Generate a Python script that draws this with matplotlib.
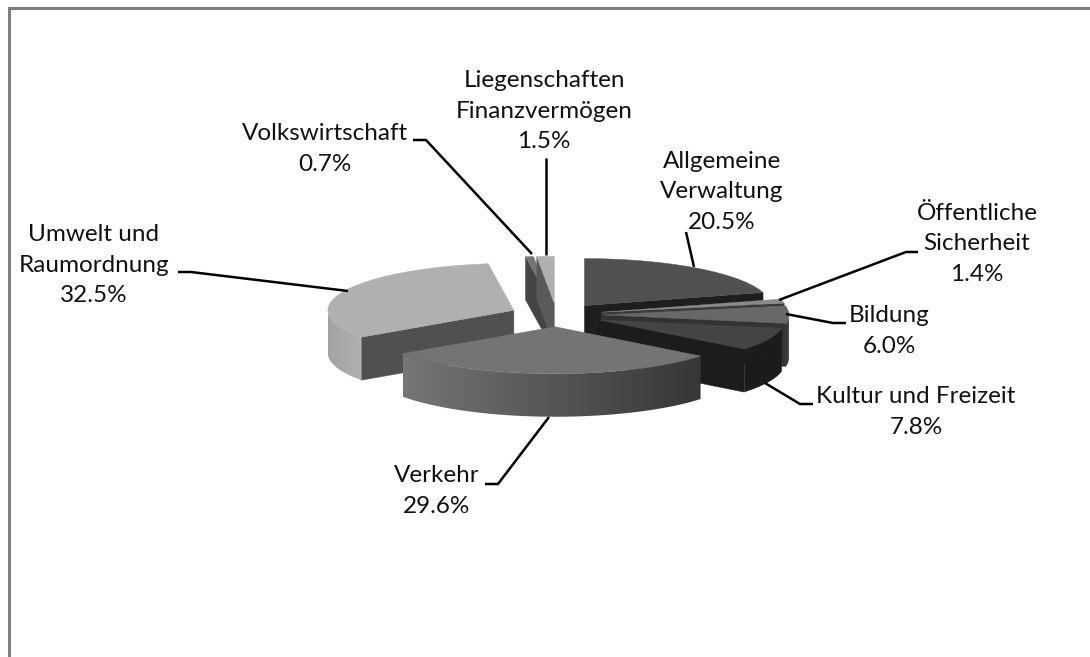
import numpy as np
import matplotlib
matplotlib.use("Agg")
import matplotlib.pyplot as plt
from matplotlib.colors import LinearSegmentedColormap
from matplotlib.patches import Polygon

# ====== data ======
labels = ["Allgemeine\nVerwaltung", "Öffentliche\nSicherheit", "Bildung", "Kultur und Freizeit",
          "Verkehr", "Umwelt und\nRaumordnung", "Volkswirtschaft", "Liegenschaften\nFinanzvermögen"]
shares = [20.5, 1.4, 6.0, 7.8, 29.6, 32.5, 0.7, 1.5]

# ====== style ======
top_colors = ["#505050", "#8a8a8a", "#686868", "#444444", "#747474", "#b0b0b0", "#767676", "#b0b0b0"]
cut_colors = ["#1e1e1e", "#3a3a3a", "#333333", "#1c1c1c", "#404040", "#505050", "#444444", "#5a5a5a"]
wall_colors = [["#505050", "#505050"], ["#666666", "#666666"], ["#303030", "#5a5a5a"], ["#1c1c1c", "#1c1c1c"],
               ["#767676", "#363636"], ["#a2a2a2", "#aaaaaa", "#b0b0b0"], ["#505050", "#505050"], ["#808080", "#808080"]]
label_xy = [(722, 192), (977, 244), (889, 331), (916, 412), (437, 491), (94, 265), (325, 149), (544, 111)]
leaders = [[(686, 232), (694, 267)],
           [(918, 252), (906, 252), (779, 300)],
           [(846, 323), (833, 323), (786, 314)],
           [(813, 404), (800, 404), (765, 383)],
           [(485, 484), (498, 484), (549, 417)],
           [(178, 272), (191, 272), (348, 291)],
           [(413, 140), (426, 140), (532, 254)],
           [(546, 158), (546, 255)]]

cx, cy = 556.5, 315
rx, ry = 186, 47
explode = 0.25
depth = 43


def rim(x0, y0, a):
    return x0 + rx * np.sin(a), y0 - ry * np.cos(a)


fig = plt.figure(figsize=(10.9, 6.57), dpi=100)
ax = fig.add_axes([0, 0, 1, 1])
ax.axis("off")

# frame, only left and top show up
ax.plot([9, 9, 1090], [657, 8, 8], color="#808080", lw=2.2, solid_joinstyle="miter")

# slices clockwise from 12 o'clock, back ones first
edges = np.radians(np.cumsum([0] + shares) * 3.6)
order = [0, 1, 2, 3, 6, 7, 5, 4]
for z, i in enumerate(order):
    a0, a1 = edges[i], edges[i + 1]
    mid = (a0 + a1) / 2
    x0 = cx + explode * rx * np.sin(mid)
    y0 = cy - explode * ry * np.cos(mid)
    arc = np.linspace(a0, a1, 120)
    px, py = rim(x0, y0, arc)

    # cut faces that look to the front
    for a, show in ((a0, np.sin(a0) < -1e-6), (a1, np.sin(a1) > 1e-6)):
        if show:
            tx, ty = rim(x0, y0, a)
            ax.add_patch(Polygon([(x0, y0), (tx, ty), (tx, ty + depth), (x0, y0 + depth)],
                                 fc=cut_colors[i], ec=cut_colors[i], lw=0.3, zorder=2 + z * 3))

    # outer wall, gradient image clipped to the wall shape
    front = np.cos(arc) < 0.02
    if front.sum() > 1:
        fx, fy = px[front], py[front]
        cmap = LinearSegmentedColormap.from_list("wall", wall_colors[i])
        outline = np.r_[np.c_[fx, fy], np.c_[fx, fy + depth][::-1]]
        im = ax.imshow(np.linspace(0, 1, 256)[None, :], cmap=cmap, aspect="auto", interpolation="bilinear",
                       extent=(fx.min(), fx.max(), fy.max() + depth, fy.min()), zorder=3 + z * 3)
        im.set_clip_path(Polygon(outline, transform=ax.transData))

    # top surface
    ax.add_patch(Polygon(np.r_[[(x0, y0)], np.c_[px, py]], fc=top_colors[i], ec=top_colors[i],
                         lw=0.3, zorder=4 + z * 3))

# labels and leader lines
for name, v, (tx, ty), pts in zip(labels, shares, label_xy, leaders):
    ax.text(tx, ty, f"{name}\n{v:.1f}%", ha="center", va="center", ma="center",
            family="Lato", fontsize=17.5, linespacing=1.56, color="#111111", zorder=60)
    ax.plot(*zip(*pts), color="black", lw=1.8, solid_capstyle="butt", solid_joinstyle="miter", zorder=50)

ax.set_xlim(0, 1090)
ax.set_ylim(657, 0)

fig.savefig("out.png", dpi=100)
